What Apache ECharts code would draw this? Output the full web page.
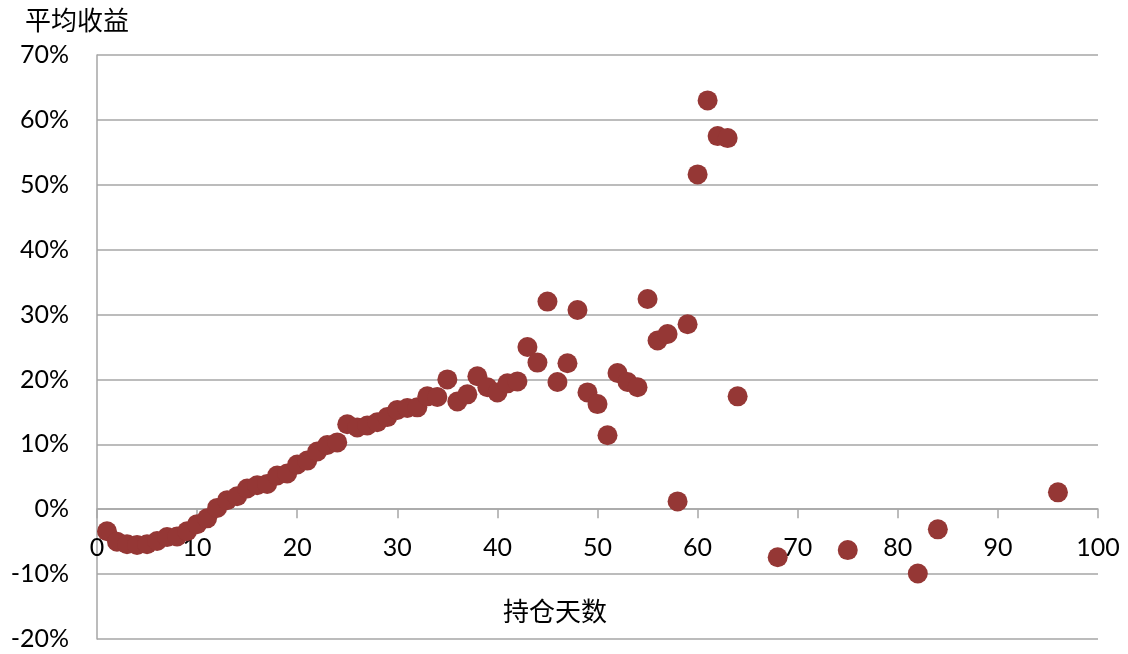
<!DOCTYPE html>
<html>
<head>
<meta charset="utf-8">
<script src="https://cdn.jsdelivr.net/npm/echarts@6/dist/echarts.min.js"></script>
<style>html,body{margin:0;padding:0;background:#fff}#c{width:1128px;height:654px}</style>
</head>
<body>
<div id="c"></div>
<script>
var days = [1,2,3,4,5,6,7,8,9,10,11,12,13,14,15,16,17,18,19,20,21,22,23,24,25,26,27,28,29,30,31,32,33,34,35,36,37,38,39,40,41,42,43,44,45,46,47,48,49,50,51,52,53,54,55,56,57,58,59,60,61,62,63,64,68,75,82,84,96];
var avgReturn = [-3.4,-5.0,-5.4,-5.5,-5.4,-4.9,-4.3,-4.2,-3.4,-2.3,-1.4,0.2,1.4,2.0,3.2,3.7,3.9,5.2,5.5,6.9,7.5,8.9,9.9,10.3,13.1,12.6,12.9,13.4,14.2,15.3,15.6,15.7,17.4,17.3,20.0,16.6,17.7,20.5,18.8,18.0,19.4,19.7,25.0,22.6,32.0,19.6,22.5,30.7,18.0,16.2,11.4,21.0,19.6,18.8,32.4,26.0,27.0,1.2,28.5,51.6,63.0,57.5,57.2,17.4,-7.4,-6.3,-9.9,-3.1,2.6];
var yTitle = '平均收益';
var xTitle = '持仓天数';

var pts = days.map(function(d, i){ return [d, avgReturn[i]]; });
var font = 'Lato, "Noto Sans CJK SC", sans-serif';
var cjk = '"Noto Sans CJK SC", sans-serif';
var chart = echarts.init(document.getElementById('c'));
chart.setOption({
  animation: false,
  backgroundColor: '#fff',
  title: [{
    text: yTitle, left: 20, top: 2,
    textStyle: {fontFamily: cjk, fontSize: 26, fontWeight: 'normal', color: '#000'}
  }, {
    text: xTitle, left: 498, top: 593,
    textStyle: {fontFamily: cjk, fontSize: 26, fontWeight: 'normal', color: '#000'}
  }],
  grid: {left: 97, right: 30, top: 55, bottom: 15, containLabel: false, outerBoundsMode: 'none'},
  xAxis: [{
    type: 'value', min: 0, max: 100, interval: 10,
    axisLine: {show: true, onZero: true, lineStyle: {color: '#a6a6a6', width: 1.5}},
    axisTick: {show: true, length: 9, lineStyle: {color: '#a6a6a6', width: 1.5}},
    axisLabel: {show: false},
    splitLine: {show: false}
  }, {
    type: 'value', min: 0, max: 100, interval: 10, position: 'bottom', offset: -130,
    axisLine: {show: false, onZero: false},
    axisTick: {show: false},
    axisLabel: {margin: 26, fontSize: 25, color: '#000', fontFamily: font},
    splitLine: {show: false}
  }],
  yAxis: {
    type: 'value', min: -20, max: 70, interval: 10,
    axisLine: {show: true, lineStyle: {color: '#a6a6a6', width: 1.5}},
    axisTick: {show: false},
    axisLabel: {margin: 28, fontSize: 25, color: '#000', fontFamily: font, formatter: function(v){ return v + '%'; }},
    splitLine: {show: true, lineStyle: {color: '#a6a6a6', width: 1.5}}
  },
  series: [{
    type: 'scatter', data: pts, symbol: 'circle', symbolSize: 20,
    itemStyle: {color: '#953735', opacity: 1}
  }]
});
</script>
</body>
</html>
